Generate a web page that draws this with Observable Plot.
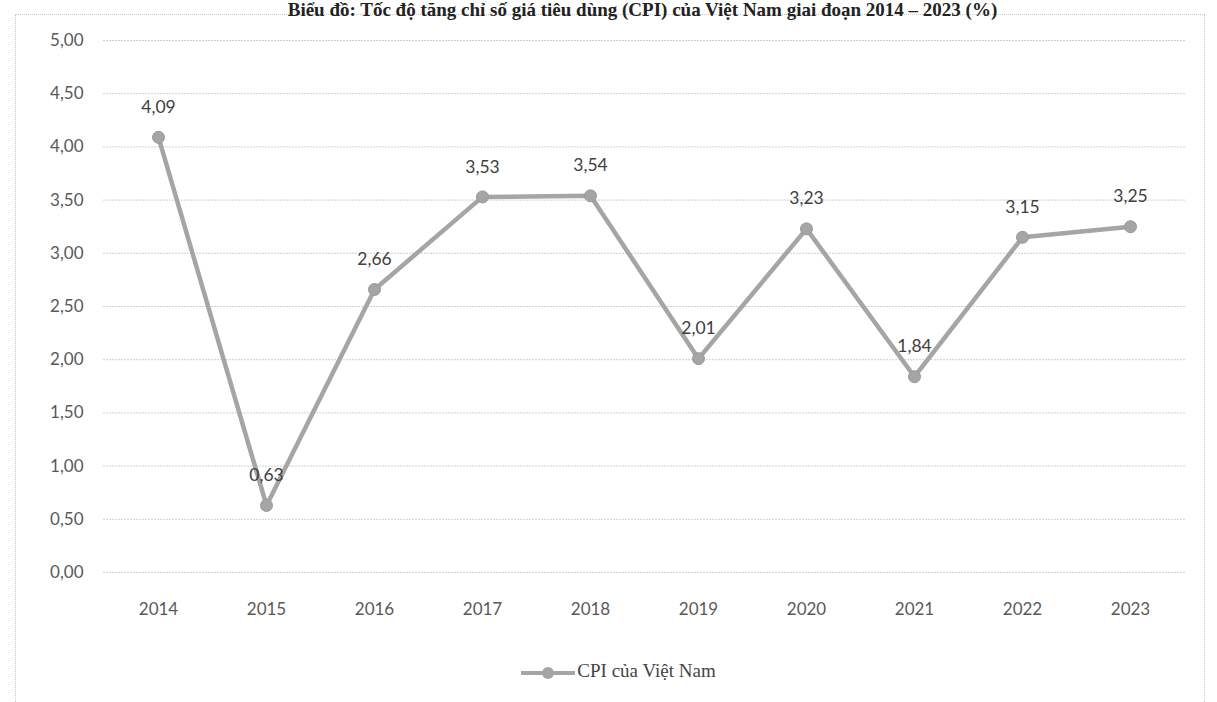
<!DOCTYPE html>
<html>
<head>
<meta charset="utf-8">
<script src="https://cdn.jsdelivr.net/npm/d3@7"></script>
<script src="https://cdn.jsdelivr.net/npm/@observablehq/plot@0.6"></script>
<style>
  html, body { margin: 0; padding: 0; background: #fff; width: 1217px; height: 702px; overflow: hidden; position: relative; }
  #title { position: absolute; top: -1px; left: 180px; width: 925px; text-align: center; font-family: "Liberation Serif", serif; font-weight: bold; font-size: 19px; line-height: 22px; color: #222; z-index: 2; white-space: nowrap; }
  #frame { position: absolute; left: 15px; top: 14px; width: 1190px; height: 700px; border: 1px dotted #c8c8c8; box-sizing: border-box; }
  #chart { position: absolute; left: 0; top: 0; }
  #legend { position: absolute; top: 660px; left: 0; width: 1217px; text-align: center; font-family: "Liberation Serif", serif; font-size: 19px; color: #444; padding-left: 20px; box-sizing: border-box; }
  #legend svg { vertical-align: middle; margin-right: 2px; }
</style>
</head>
<body>
<div id="title">Biểu đồ: Tốc độ tăng chỉ số giá tiêu dùng (CPI) của Việt Nam giai đoạn 2014 – 2023 (%)</div>
<div id="frame"></div>
<div id="chart"></div>
<div id="legend"><svg width="54" height="14"><line x1="0" y1="7" x2="54" y2="7" stroke="#a5a5a5" stroke-width="4"/><circle cx="27" cy="7" r="6" fill="#a5a5a5"/></svg>CPI của Việt Nam</div>
<script>
const years = ["2014","2015","2016","2017","2018","2019","2020","2021","2022","2023"];
const cpi = [4.09, 0.63, 2.66, 3.53, 3.54, 2.01, 3.23, 1.84, 3.15, 3.25];
const yTicks = [0, 0.5, 1, 1.5, 2, 2.5, 3, 3.5, 4, 4.5, 5];

const data = years.map((y, i) => ({year: y, value: cpi[i]}));
const fmt = v => d3.format(".2f")(v).replace(".", ",");

const plot = Plot.plot({
  width: 1217,
  height: 620,
  marginLeft: 103,
  marginRight: 32,
  marginTop: 40,
  marginBottom: 48,
  style: {fontFamily: "Lato, 'Open Sans', sans-serif", fontSize: "17px", color: "#595959", background: "transparent"},
  x: {type: "point", domain: years, padding: 0.5, label: null},
  y: {domain: [0, 5], label: null},
  marks: [
    Plot.gridY(yTicks, {stroke: "#cfcfcf", strokeOpacity: 1, strokeDasharray: "2,1"}),
    Plot.axisY(yTicks, {tickSize: 0, tickPadding: 20, tickFormat: fmt, label: null, fontSize: 17}),
    Plot.axisX(years, {tickSize: 0, tickPadding: 30, label: null, fontSize: 17}),
    Plot.line(data, {x: "year", y: "value", stroke: "#a5a5a5", strokeWidth: 4.5}),
    Plot.dot(data, {x: "year", y: "value", r: 6, fill: "#a5a5a5", stroke: "#999", strokeWidth: 1}),
    Plot.text(data, {x: "year", y: "value", text: d => fmt(d.value), dy: -30, fontSize: 17.5, fill: "#404040"})
  ]
});
document.getElementById("chart").appendChild(plot);
</script>
</body>
</html>
